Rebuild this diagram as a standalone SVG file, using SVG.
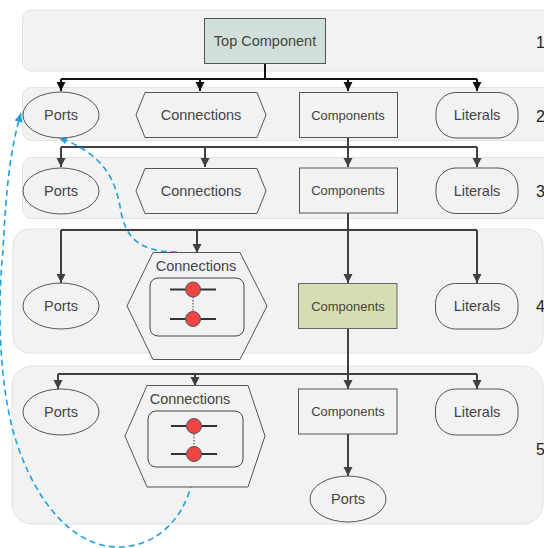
<svg xmlns="http://www.w3.org/2000/svg" width="544" height="548" viewBox="0 0 544 548">
  <style>
    .band { fill: #f2f2f2; stroke: #e2e2e2; stroke-width: 1; }
    .node { fill: #f2f2f2; stroke: #555; stroke-width: 1; }
    .lbl { font-family: "Liberation Sans", Arial, sans-serif; font-size: 14.5px; fill: #444; text-anchor: middle; dominant-baseline: central; }
    .lbl-sm { font-size: 13px; }
    .num { font-family: "Liberation Sans", Arial, sans-serif; font-size: 16px; fill: #222; dominant-baseline: central; }
    .wire { fill: none; stroke: #404040; stroke-width: 2; }
    .wire-top { stroke: #111; }
    .link { fill: none; stroke: #1ba1e2; stroke-width: 1.6; stroke-dasharray: 6 4; }
    .pin { stroke: #333; stroke-width: 2; }
    .dot { fill: #ee4444; stroke: #555; stroke-width: 1; }
  </style>
  <defs>
    <marker id="arrow" markerUnits="userSpaceOnUse" markerWidth="10" markerHeight="10" refX="9" refY="5" orient="auto">
      <path d="M0,0.5 L9,5 L0,9.5 Z" fill="#404040"/>
    </marker>
    <marker id="arrow-top" markerUnits="userSpaceOnUse" markerWidth="10" markerHeight="10" refX="9" refY="5" orient="auto">
      <path d="M0,0.5 L9,5 L0,9.5 Z" fill="#111"/>
    </marker>
    <marker id="arrow-blue" markerUnits="userSpaceOnUse" markerWidth="10" markerHeight="10" refX="9" refY="5" orient="auto">
      <path d="M0,1 L9,5 L0,9 Z" fill="#1ba1e2"/>
    </marker>
  </defs>

  <!-- level bands -->
  <g id="bands">
    <rect class="band" x="22.5" y="10" width="560" height="61" rx="9"/>
    <rect class="band" x="22.5" y="87.5" width="560" height="53" rx="9"/>
    <rect class="band" x="22.5" y="157.5" width="560" height="61" rx="9"/>
    <rect class="band" x="13" y="229" width="530" height="124" rx="16"/>
    <rect class="band" x="12" y="366" width="531" height="158" rx="20"/>
  </g>

  <g id="level-numbers">
    <text class="num" x="536" y="42">1</text>
    <text class="num" x="536" y="116">2</text>
    <text class="num" x="536" y="191">3</text>
    <text class="num" x="536" y="306">4</text>
    <text class="num" x="536" y="449">5</text>
  </g>

  <!-- connectors -->
  <g id="connectors">
    <path class="wire wire-top" d="M265,63 V79 M61,79 H477"/>
    <path class="wire wire-top" d="M61,79 V91" marker-end="url(#arrow-top)"/>
    <path class="wire wire-top" d="M200,79 V91" marker-end="url(#arrow-top)"/>
    <path class="wire wire-top" d="M348,79 V91" marker-end="url(#arrow-top)"/>
    <path class="wire wire-top" d="M477,79 V91" marker-end="url(#arrow-top)"/>

    <path class="wire" d="M348,137 V147 M61,147 H477"/>
    <path class="wire" d="M61,147 V167" marker-end="url(#arrow)"/>
    <path class="wire" d="M205,147 V167" marker-end="url(#arrow)"/>
    <path class="wire" d="M348,147 V167" marker-end="url(#arrow)"/>
    <path class="wire" d="M477,147 V167" marker-end="url(#arrow)"/>

    <path class="wire" d="M348,213 V230 M61,230 H477"/>
    <path class="wire" d="M61,230 V283" marker-end="url(#arrow)"/>
    <path class="wire" d="M197,230 V253" marker-end="url(#arrow)"/>
    <path class="wire" d="M348,230 V283" marker-end="url(#arrow)"/>
    <path class="wire" d="M477,230 V283" marker-end="url(#arrow)"/>

    <path class="wire" d="M348,328 V374 M58,374 H477"/>
    <path class="wire" d="M58,374 V389" marker-end="url(#arrow)"/>
    <path class="wire" d="M195,374 V386" marker-end="url(#arrow)"/>
    <path class="wire" d="M348,374 V389" marker-end="url(#arrow)"/>
    <path class="wire" d="M477,374 V389" marker-end="url(#arrow)"/>

    <path class="wire" d="M348,434 V476" marker-end="url(#arrow)"/>

    <!-- dashed references back to the level-2 ports -->
    <path class="link" d="M177,252 C140,252 126,238 121,212 C116,180 105,155 58,137" marker-end="url(#arrow-blue)"/>
    <path class="link" d="M194,462 C194,505 165,547 118,547 C70,547 30,495 12,427 C-2,370 -2,300 3,250 C6,190 10,150 21,113" marker-end="url(#arrow-blue)"/>
  </g>

  <!-- level 1 -->
  <g id="top-component">
    <rect x="204.5" y="18.5" width="121" height="45" fill="#d0e0d9" stroke="#555"/>
    <text class="lbl" x="265" y="41">Top Component</text>
  </g>

  <!-- level 2 -->
  <g id="ports-2">
    <ellipse class="node" cx="61" cy="115" rx="38" ry="23"/>
    <text class="lbl" x="61" y="115">Ports</text>
  </g>
  <g id="connections-2">
    <polygon class="node" points="136,115 145,92.5 257,92.5 266,115 257,137.5 145,137.5"/>
    <text class="lbl" x="201" y="115">Connections</text>
  </g>
  <g id="components-2">
    <rect class="node" x="299.5" y="92.5" width="98" height="45"/>
    <text class="lbl lbl-sm" x="348" y="115">Components</text>
  </g>
  <g id="literals-2">
    <rect class="node" x="436" y="92.5" width="82" height="45.5" rx="20"/>
    <text class="lbl" x="477" y="115">Literals</text>
  </g>

  <!-- level 3 -->
  <g id="ports-3">
    <ellipse class="node" cx="61" cy="191" rx="38" ry="23"/>
    <text class="lbl" x="61" y="191">Ports</text>
  </g>
  <g id="connections-3">
    <polygon class="node" points="136,191 145,168.5 257,168.5 266,191 257,213.5 145,213.5"/>
    <text class="lbl" x="201" y="191">Connections</text>
  </g>
  <g id="components-3">
    <rect class="node" x="299.5" y="168" width="98" height="45"/>
    <text class="lbl lbl-sm" x="348" y="190.5">Components</text>
  </g>
  <g id="literals-3">
    <rect class="node" x="436" y="168" width="82" height="45.5" rx="20"/>
    <text class="lbl" x="477" y="191">Literals</text>
  </g>

  <!-- level 4 -->
  <g id="ports-4">
    <ellipse class="node" cx="61" cy="306" rx="38" ry="23"/>
    <text class="lbl" x="61" y="306">Ports</text>
  </g>
  <g id="connections-4">
    <polygon class="node" points="127,306 153,252.5 240,252.5 267,306 240,359.5 153,359.5"/>
    <text class="lbl" x="196" y="266">Connections</text>
    <rect x="150" y="278" width="94" height="58" rx="8" fill="#f2f2f2" stroke="#444"/>
    <line x1="193" y1="297" x2="193" y2="312" stroke="#777" stroke-width="1.5" stroke-dasharray="1.5 1.5"/>
    <line class="pin" x1="170" y1="289.5" x2="216" y2="289.5"/>
    <line class="pin" x1="170" y1="319" x2="216" y2="319"/>
    <circle class="dot" cx="193" cy="289.5" r="7.5"/>
    <circle class="dot" cx="193" cy="319" r="7.5"/>
  </g>
  <g id="components-4">
    <rect x="298.5" y="283.5" width="98.5" height="45" fill="#d5ddb3" stroke="#666"/>
    <text class="lbl lbl-sm" x="348" y="306">Components</text>
  </g>
  <g id="literals-4">
    <rect class="node" x="435.5" y="283.5" width="82.5" height="45.5" rx="20"/>
    <text class="lbl" x="477" y="306">Literals</text>
  </g>

  <!-- level 5 -->
  <g id="ports-5">
    <ellipse class="node" cx="61" cy="412" rx="38" ry="23"/>
    <text class="lbl" x="61" y="412">Ports</text>
  </g>
  <g id="connections-5">
    <polygon class="node" points="125,436 147,385.5 248,385.5 265,436 248,487 147,487"/>
    <text class="lbl" x="190" y="399">Connections</text>
    <rect x="148" y="411" width="95" height="56" rx="8" fill="#f2f2f2" stroke="#444"/>
    <line x1="194" y1="434" x2="194" y2="447" stroke="#777" stroke-width="1.5" stroke-dasharray="1.5 1.5"/>
    <line class="pin" x1="171" y1="426" x2="217" y2="426"/>
    <line class="pin" x1="171" y1="454" x2="217" y2="454"/>
    <circle class="dot" cx="194" cy="426" r="7.5"/>
    <circle class="dot" cx="194" cy="454" r="7.5"/>
  </g>
  <g id="components-5">
    <rect class="node" x="298.5" y="389" width="98.5" height="45"/>
    <text class="lbl lbl-sm" x="348" y="411.5">Components</text>
  </g>
  <g id="literals-5">
    <rect class="node" x="435.5" y="389" width="82.5" height="46" rx="20"/>
    <text class="lbl" x="477" y="412">Literals</text>
  </g>
  <g id="ports-5b">
    <ellipse class="node" cx="348" cy="499" rx="38" ry="23"/>
    <text class="lbl" x="348" y="499">Ports</text>
  </g>
</svg>
